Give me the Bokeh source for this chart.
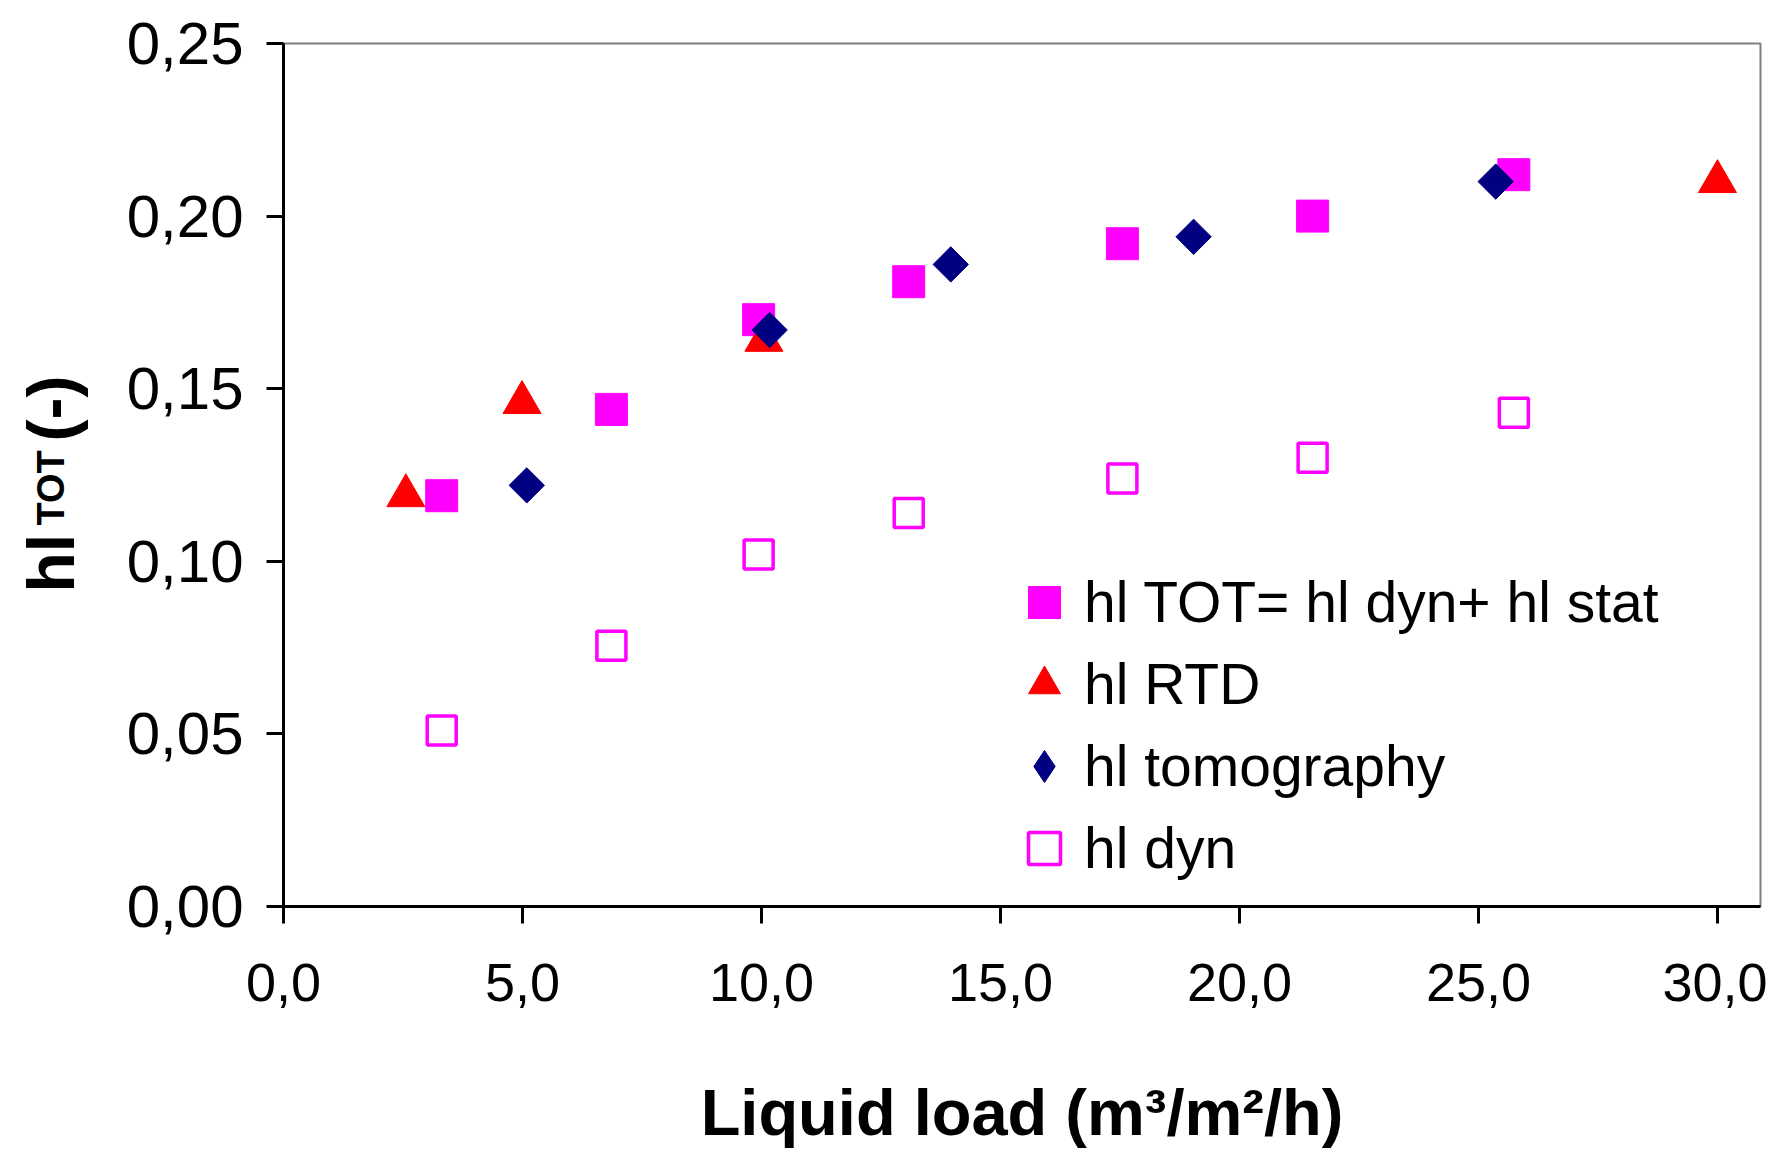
import numpy as np
from bokeh.plotting import figure
from bokeh.layouts import row
from bokeh.models import Range1d, FixedTicker, Legend, LegendItem
from bokeh.core.properties import value
from bokeh.embed import file_html
from bokeh.resources import INLINE

# ---- data ----
tot_x = [3.31, 6.86, 9.94, 13.08, 17.55, 21.53, 25.74]
tot_y = [0.119, 0.144, 0.170, 0.181, 0.192, 0.200, 0.212]

rtd_x = [2.56, 4.99, 10.05, 30.0]
rtd_y = [0.119, 0.146, 0.164, 0.210]

tomo_x = [5.09, 10.17, 13.96, 19.04, 25.36]
tomo_y = [0.122, 0.167, 0.186, 0.194, 0.210]

dyn_x = [3.31, 6.86, 9.94, 13.08, 17.55, 21.53, 25.74]
dyn_y = [0.051, 0.0755, 0.102, 0.114, 0.124, 0.130, 0.143]

series_labels = ["hl TOT= hl dyn+ hl stat", "hl RTD", "hl tomography", "hl dyn"]

x_ticks = [0, 5, 10, 15, 20, 25, 30]
x_tick_labels = ["0,0", "5,0", "10,0", "15,0", "20,0", "25,0", "30,0"]
y_ticks = [0.0, 0.05, 0.10, 0.15, 0.20, 0.25]
y_tick_labels = ["0,00", "0,05", "0,10", "0,15", "0,20", "0,25"]

x_title = "Liquid load (m³/m²/h)"
y_title_parts = ["hl", "TOT", "(-)"]

FONT = "Liberation Sans"
H = 1153
LW = 120          # width of the strip holding the vertical y title
F_TOP, F_BOT = 43, 906   # frame top / bottom (canvas px)

# ---------- strip with the y-axis title (y in canvas px from the top: H - y) ----------
left = figure(width=LW, height=H, output_backend="svg", toolbar_location=None,
              x_range=Range1d(0, LW), y_range=Range1d(H - F_BOT, H - F_TOP),
              x_axis_location=None, y_axis_location=None,
              min_border_left=0, min_border_right=0, min_border_top=F_TOP,
              min_border_bottom=H - F_BOT)
left.grid.visible = False
left.outline_line_color = None
left.background_fill_color = "white"
left.border_fill_color = "white"
for txt, yy, fs in ((y_title_parts[0], H - 592, "66px"),
                    (y_title_parts[1], H - 525, "38px"),
                    (y_title_parts[2], H - 441, "66px")):
    left.text(x=[50], y=[yy], text=[txt], angle=np.pi / 2,
              text_font=value(FONT), text_font_style="bold", text_font_size=fs,
              text_align="left", text_baseline="alphabetic", text_color="black")

# ---------- main chart ----------
p = figure(width=1767 - LW, height=H, output_backend="svg", toolbar_location=None,
           x_range=Range1d(0, 30.9), y_range=Range1d(0, 0.25),
           min_border_left=283 - LW, min_border_right=7, min_border_top=F_TOP,
           min_border_bottom=H - F_BOT)
p.grid.visible = False
p.background_fill_color = "white"
p.border_fill_color = "white"
p.outline_line_color = "#7f7f7f"
p.outline_line_width = 2

r_tot = p.scatter(tot_x, tot_y, marker="square", size=32, fill_color="#FF00FF", line_color="#FF00FF")
r_rtd = p.scatter(rtd_x, rtd_y, marker="triangle", size=38, fill_color="#FF0000", line_color="#FF0000")
# diamond swatch used by the legend (sits hidden under the rotated squares below)
r_tomo_leg = p.scatter(tomo_x, tomo_y, marker="diamond", size=32,
                       fill_color="#000080", line_color="#000080")
r_tomo = p.scatter(tomo_x, tomo_y, marker="square", angle=np.pi / 4, size=25,
                   fill_color="#000080", line_color="#000080")
r_dyn = p.scatter(dyn_x, dyn_y, marker="square", size=29, fill_color="white",
                  line_color="#FF00FF", line_width=3.5)

for ax, ticks, labels in ((p.xaxis[0], x_ticks, x_tick_labels), (p.yaxis[0], y_ticks, y_tick_labels)):
    ax.ticker = FixedTicker(ticks=ticks, minor_ticks=[])
    ax.major_label_overrides = {t: l for t, l in zip(ticks, labels)}
    ax.axis_line_color = "black"
    ax.axis_line_width = 3
    ax.major_tick_line_color = "black"
    ax.major_tick_line_width = 3
    ax.major_tick_in = 0
    ax.major_tick_out = 17
    ax.minor_tick_line_color = None
    ax.major_label_text_font = FONT
    ax.major_label_text_color = "black"

p.xaxis.major_label_text_font_size = "54px"
p.yaxis.major_label_text_font_size = "60px"
p.xaxis.major_label_standoff = 40
p.yaxis.major_label_standoff = 23
p.xaxis.axis_label = x_title
p.xaxis.axis_label_text_font = FONT
p.xaxis.axis_label_text_font_style = "bold"
p.xaxis.axis_label_text_font_size = "65px"
p.xaxis.axis_label_text_color = "black"
p.xaxis.axis_label_standoff = 72

legend = Legend(items=[LegendItem(label=series_labels[0], renderers=[r_tot]),
                       LegendItem(label=series_labels[1], renderers=[r_rtd]),
                       LegendItem(label=series_labels[2], renderers=[r_tomo_leg]),
                       LegendItem(label=series_labels[3], renderers=[r_dyn])],
                location=(716, 13), border_line_alpha=0, background_fill_alpha=0,
                padding=5, spacing=2, glyph_width=80, glyph_height=80, label_height=62,
                label_standoff=0, label_text_font=FONT, label_text_font_size="57px",
                label_text_color="black")
p.add_layout(legend, "center")

layout = row(left, p)
open("out.html", "w").write(file_html(layout, INLINE))
